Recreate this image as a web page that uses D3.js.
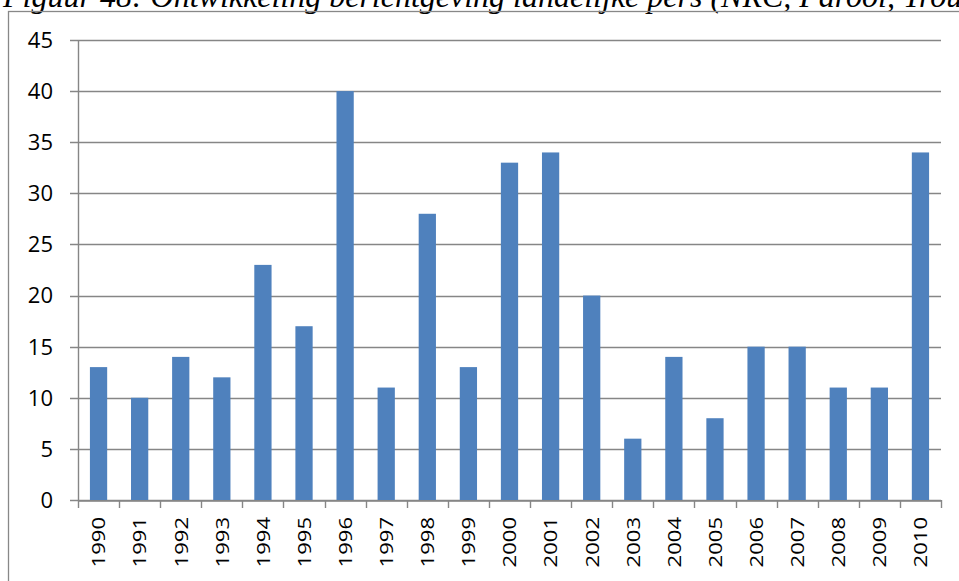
<!DOCTYPE html>
<html>
<head>
<meta charset="utf-8">
<script src="https://cdn.jsdelivr.net/npm/d3@7"></script>
<style>
  html, body { margin: 0; padding: 0; background: #fff; overflow: hidden; }
  svg { display: block; }
</style>
</head>
<body>
<svg id="chart" width="959" height="581"></svg>
<script>
// Aantal berichten per jaar in de landelijke pers
const years = ["1990","1991","1992","1993","1994","1995","1996","1997","1998","1999","2000",
               "2001","2002","2003","2004","2005","2006","2007","2008","2009","2010"];
const counts = [13, 10, 14, 12, 23, 17, 40, 11, 28, 13, 33, 34, 20, 6, 14, 8, 15, 15, 11, 11, 34];
const yTicks = [0, 5, 10, 15, 20, 25, 30, 35, 40, 45];
const caption = "Figuur 48: Ontwikkeling berichtgeving landelijke pers (NRC, Parool, Trouw)";

const svg = d3.select("#chart");
const plotLeft = 78, plotRight = 941, plotTop = 40, plotBottom = 500;
const labelFont = "'Open Sans', Carlito, Calibri, sans-serif";

// Bijschrift boven de figuur
svg.append("text")
  .attr("x", 3).attr("y", 7)
  .attr("font-family", "Liberation Serif, Times New Roman, serif")
  .attr("font-style", "italic")
  .attr("font-size", 32)
  .attr("fill", "#000")
  .text(caption);

// Kader rond de grafiek
svg.append("rect")
  .attr("x", 8.5).attr("y", 11.5)
  .attr("width", 980).attr("height", 600)
  .attr("fill", "none").attr("stroke", "#888").attr("stroke-width", 1.3);

const x = d3.scaleBand().domain(years).range([plotLeft, plotRight]).paddingInner(0.58).paddingOuter(0.29);
const xAxisScale = d3.scaleBand().domain(years).range([plotLeft, plotRight]);
const y = d3.scaleLinear().domain([0, 45]).range([plotBottom, plotTop]);

// Rasterlijnen
svg.append("g").selectAll("line").data(yTicks).join("line")
  .attr("x1", plotLeft - 8).attr("x2", plotRight)
  .attr("y1", d => Math.round(y(d)) + 0.5).attr("y2", d => Math.round(y(d)) + 0.5)
  .attr("stroke", "#868686").attr("stroke-width", 1.4);

// Staven
svg.append("g").selectAll("rect").data(counts).join("rect")
  .attr("x", (d, i) => x(years[i]))
  .attr("width", x.bandwidth())
  .attr("y", d => y(d))
  .attr("height", d => y(0) - y(d))
  .attr("fill", "#4F81BD");

// Y-as
svg.append("line")
  .attr("x1", plotLeft + 0.5).attr("x2", plotLeft + 0.5)
  .attr("y1", plotTop).attr("y2", plotBottom)
  .attr("stroke", "#868686").attr("stroke-width", 1.4);

svg.append("g").selectAll("text").data(yTicks).join("text")
  .attr("x", 53).attr("y", d => y(d))
  .attr("dy", "0.36em")
  .attr("text-anchor", "end")
  .attr("font-family", labelFont)
  .attr("font-size", 22)
  .attr("fill", "#000")
  .text(d => d);

// X-as met streepjes tussen de categorieën
const xAxis = svg.append("g").attr("transform", `translate(0,${Math.round(plotBottom) + 0.5})`)
  .call(d3.axisBottom(xAxisScale).tickSize(0).tickFormat(""));
xAxis.select(".domain").attr("stroke", "#868686").attr("stroke-width", 1.4);

const boundaries = years.map(yr => xAxisScale(yr)).concat([plotRight]);
svg.append("g").selectAll("line").data(boundaries).join("line")
  .attr("x1", d => Math.round(d) + 0.5).attr("x2", d => Math.round(d) + 0.5)
  .attr("y1", plotBottom).attr("y2", plotBottom + 8)
  .attr("stroke", "#868686").attr("stroke-width", 1.4);

svg.append("g").selectAll("text").data(years).join("text")
  .attr("transform", d => `translate(${xAxisScale(d) + xAxisScale.bandwidth() / 2},${plotBottom + 17}) rotate(-90) scale(1.16,1)`)
  .attr("text-anchor", "end")
  .attr("dy", "0.36em")
  .attr("font-family", labelFont)
  .attr("font-size", 19)
  .attr("fill", "#000")
  .text(d => d);
</script>
</body>
</html>
